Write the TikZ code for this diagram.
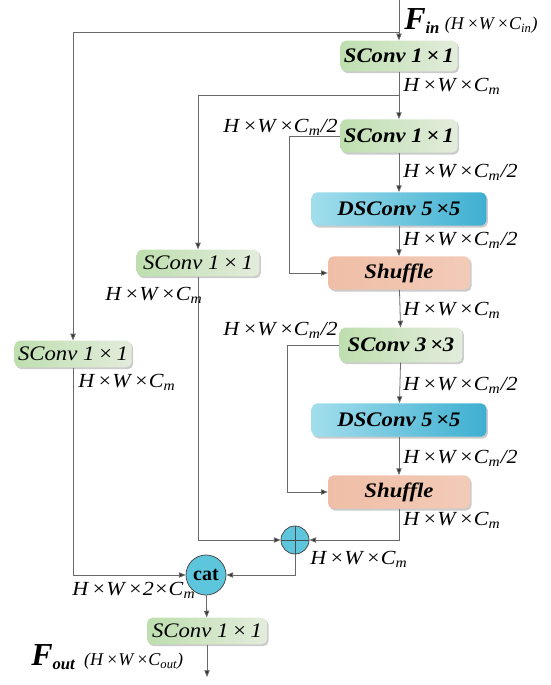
\documentclass[tikz,border=0pt]{standalone}
\usepackage{fontspec}
\setmainfont{Liberation Serif}
\newfontfamily\wf[FakeStretch=1.1]{Liberation Serif}
\usetikzlibrary{arrows.meta,shadows}
\definecolor{gL}{HTML}{BEDFAF}
\definecolor{gR}{HTML}{E3ECDC}
\definecolor{bL}{HTML}{A2DEEC}
\definecolor{bR}{HTML}{3EAFD1}
\definecolor{oL}{HTML}{F0BEA6}
\definecolor{oR}{HTML}{F2CBB8}
\definecolor{cF}{HTML}{5EC6DC}
\definecolor{lnC}{HTML}{6A6A6A}
\newcommand\dimlab[1]{\textit{H\,×W\,×C}\textsubscript{\textit{#1}}}
\tikzset{
  x=0.75pt, y=-0.75pt,
  ln/.style={draw=lnC, line width=0.6pt},
  arr/.style={ln, -{Triangle[length=5pt,width=4pt,fill=black!80]}},
  blk/.style={rounded corners=4pt, inner sep=0pt,
    drop shadow={shadow xshift=1.2pt, shadow yshift=-1.4pt, fill=black!45, opacity=0.45},
    font=\wf\fontsize{15.5}{15.5}\selectfont\bfseries\itshape},
  gbox/.style={blk, left color=gL, right color=gR, minimum width=87.75pt, minimum height=23pt},
  gboxr/.style={gbox, font=\wf\fontsize{15.5}{15.5}\selectfont\itshape, minimum height=20pt},
  bbox/.style={blk, left color=bL, right color=bR, minimum width=131pt, minimum height=25pt},
  obox/.style={blk, left color=oL, right color=oR, minimum width=106.5pt, minimum height=25pt},
  circ/.style={circle, fill=cF, draw=black!70, line width=0.6pt, inner sep=0pt},
  lab/.style={font=\wf\fontsize{15}{15}\selectfont, inner sep=0pt},
}
\begin{document}
\begin{tikzpicture}
\useasboundingbox (0,0) rectangle (550,685);
% blocks
\node[gbox] (s1) at (399,56) {SConv 1\,×\,1};
\node[gbox, minimum height=25pt] (s2) at (399,136) {SConv 1\,×\,1};
\node[bbox] (d1) at (399,209) {DSConv 5\,×5};
\node[obox] (sh1) at (399,273) {Shuffle};
\node[gbox, minimum width=92pt, minimum height=26pt] (s3) at (401,345) {SConv 3\,×3};
\node[bbox] (d2) at (399,420) {DSConv 5\,×5};
\node[obox] (sh2) at (399,492) {Shuffle};
\node[gboxr, minimum width=92pt] (sm) at (198,263) {SConv 1\,×\,1};
\node[gboxr] (sl) at (73,354) {SConv 1\,×\,1};
\node[gboxr, minimum width=90pt] (sf) at (207,631) {SConv 1\,×\,1};
\node[circ, minimum size=21pt] (plus) at (295,540) {};
\draw[black!70, line width=0.6pt] (plus.north) -- (plus.south) (plus.west) -- (plus.east);
\node[circ, minimum size=30pt, font=\fontsize{15}{15}\selectfont\bfseries] (cat) at (206,575) {cat};
% coordinates
\coordinate (tin) at (399,0);
\coordinate (j1) at (399,32);
\coordinate (j2) at (399,95);
\coordinate (out) at (207,677);
% connectors
\draw[arr] (tin) -- (s1);
\draw[arr] (j1) -| (sl.north);
\draw[arr] (s1) -- (s2);
\draw[arr] (j2) -| (sm.north);
\draw[arr] (s2) -- (d1);
\draw[arr] (d1) -- (sh1);
\draw[arr] (sh1) -- (s3);
\draw[arr] (s3) -- (d2);
\draw[arr] (d2) -- (sh2);
\draw[arr] (s2.west) -- ++(-51,0) |- (sh1.west);
\draw[arr] (s3.west) -- ++(-52,0) |- (sh2.west);
\draw[arr] (sh2.south) |- (plus.east);
\draw[arr] (sm.south) |- (plus.west);
\draw[arr] (plus.south) |- (cat.east);
\draw[arr] (sl.south) |- (cat.west);
\draw[arr] (cat) -- (sf);
\draw[arr] (sf) -- (out);
% labels
\node[anchor=west, inner sep=0pt] (fin) at (404,21) {{\fontsize{24}{24}\selectfont\bfseries\itshape F}\raisebox{-3pt}{\fontsize{12.5}{12.5}\selectfont\bfseries\itshape in}\hspace{4pt}{\fontsize{13.5}{13.5}\selectfont\itshape (H\,×W\,×C\textsubscript{in})}};
\node[anchor=west, inner sep=0pt] (fout) at (31,657) {{\fontsize{24}{24}\selectfont\bfseries\itshape F}\raisebox{-3pt}{\fontsize{12.5}{12.5}\selectfont\bfseries\itshape out}\hspace{7pt}{\fontsize{13.5}{13.5}\selectfont\itshape (H\,×W\,×C\textsubscript{out})}};
\node[lab, anchor=west] (l1) at (403,86) {\dimlab{m}};
\node[lab, anchor=east] (l2) at (338,127) {\dimlab{m}\textit{/2}};
\node[lab, anchor=west] (l3) at (403,172) {\dimlab{m}\textit{/2}};
\node[lab, anchor=west] (l4) at (403,240) {\dimlab{m}\textit{/2}};
\node[lab, anchor=west] (l5) at (403,310) {\dimlab{m}};
\node[lab, anchor=east] (l6) at (338,330) {\dimlab{m}\textit{/2}};
\node[lab, anchor=west] (l7) at (403,385) {\dimlab{m}\textit{/2}};
\node[lab, anchor=west] (l8) at (403,458) {\dimlab{m}\textit{/2}};
\node[lab, anchor=west] (l9) at (403,520) {\dimlab{m}};
\node[lab, anchor=west] (l10) at (310,559) {\dimlab{m}};
\node[lab, anchor=west] (l11) at (105,295) {\dimlab{m}};
\node[lab, anchor=west] (l12) at (78,382) {\dimlab{m}};
\node[lab, anchor=west] (l13) at (72,590) {\textit{H\,×W\,×2×C}\textsubscript{\textit{m}}};
\end{tikzpicture}
\end{document}
